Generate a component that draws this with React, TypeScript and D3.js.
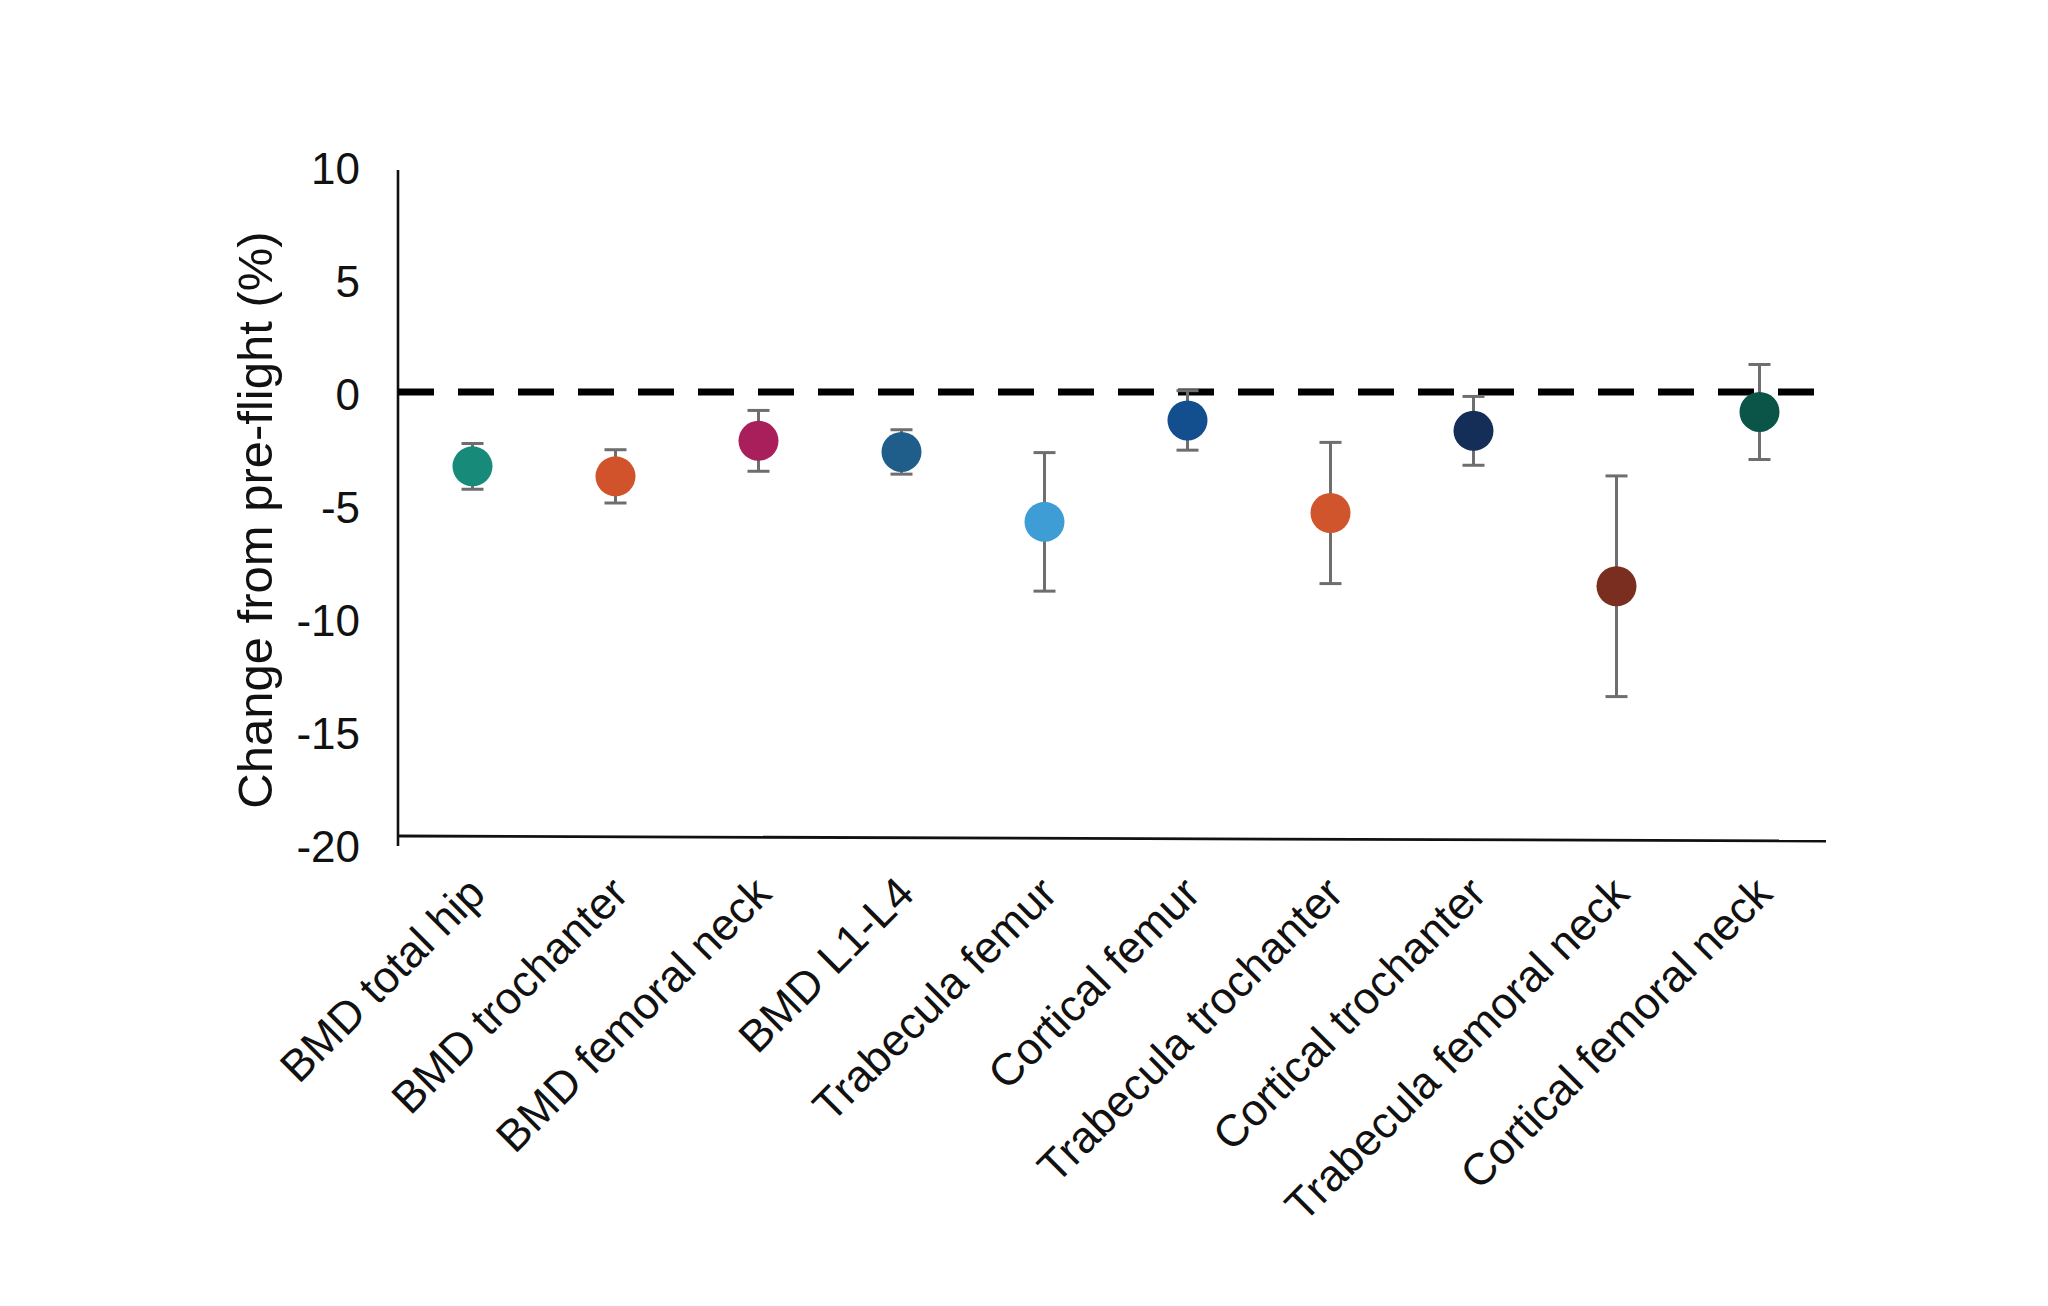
import React from "react";
import * as d3 from "d3";

const categories = [
  "BMD total hip",
  "BMD trochanter",
  "BMD femoral neck",
  "BMD L1-L4",
  "Trabecula femur",
  "Cortical femur",
  "Trabecula trochanter",
  "Cortical trochanter",
  "Trabecula femoral neck",
  "Cortical femoral neck",
];
const means = [-3.35, -3.8, -2.2, -2.7, -5.85, -1.28, -5.45, -1.75, -8.75, -0.9];
const errors = [1.03, 1.2, 1.37, 1.0, 3.12, 1.34, 3.18, 1.55, 4.97, 2.14];
const colors = [
  "#188a7a",
  "#d0532b",
  "#a81f5b",
  "#1f5e8a",
  "#3f9dd6",
  "#134f8e",
  "#d0552d",
  "#142e58",
  "#792e1f",
  "#0b5548",
];
const yTicks = [10, 5, 0, -5, -10, -15, -20];
const yTitle = "Change from pre-flight (%)";

const W = 2048;
const H = 1306;
const FONT = "'Liberation Sans', Arial, Helvetica, sans-serif";

export default function App() {
  const x = d3.scaleBand<string>().domain(categories).range([401, 1831]).padding(0);
  const y = d3.scaleLinear().domain([-20, 10]).range([836, 170]);
  const yLab = d3.scaleLinear().domain([-20, 10]).range([846, 168]);
  const cx = (c: string) => (x(c) as number) + x.bandwidth() / 2;
  const capHalf = 11;

  return (
    <div style={{ position: "absolute", left: 0, top: 0 }}>
      <svg width={W} height={H} viewBox={`0 0 ${W} ${H}`} style={{ display: "block", background: "#fff" }}>
        {/* y axis */}
        <line x1={398} x2={398} y1={y(10)} y2={y(-20) + 10} stroke="#111" strokeWidth={2.6} />
        {/* x axis */}
        <line x1={398} x2={1826} y1={y(-20)} y2={y(-20) + 5} stroke="#111" strokeWidth={2.8} />
        {/* zero dashed line */}
        <line
          x1={398}
          x2={1826}
          y1={y(0)}
          y2={y(0)}
          stroke="#000"
          strokeWidth={7}
          strokeDasharray="36 24"
        />
        {/* y tick labels */}
        {yTicks.map((t) => (
          <text
            key={t}
            x={360}
            y={yLab(t)}
            dy="0.36em"
            textAnchor="end"
            fontFamily={FONT}
            fontSize={44}
            fill="#111"
          >
            {t}
          </text>
        ))}
        {/* y title */}
        <text
          transform={`translate(254, ${(y(10) + y(-20)) / 2 + 17}) rotate(-90)`}
          textAnchor="middle"
          dy="0.36em"
          fontFamily={FONT}
          fontSize={49}
          fill="#111"
        >
          {yTitle}
        </text>
        {/* error bars and points */}
        {categories.map((c, i) => {
          const px = cx(c);
          const top = y(means[i] + errors[i]);
          const bot = y(means[i] - errors[i]);
          return (
            <g key={c}>
              <line x1={px} x2={px} y1={top} y2={bot} stroke="#6e6e6e" strokeWidth={3} />
              <line x1={px - capHalf} x2={px + capHalf} y1={top} y2={top} stroke="#6e6e6e" strokeWidth={3} />
              <line x1={px - capHalf} x2={px + capHalf} y1={bot} y2={bot} stroke="#6e6e6e" strokeWidth={3} />
              <circle cx={px} cy={y(means[i])} r={20} fill={colors[i]} />
            </g>
          );
        })}
        {/* category labels */}
        {categories.map((c) => (
          <text
            key={c}
            transform={`translate(${cx(c) + 15}, ${896}) rotate(-45)`}
            textAnchor="end"
            fontFamily={FONT}
            fontSize={44.5}
            fill="#111"
          >
            {c}
          </text>
        ))}
      </svg>
    </div>
  );
}
